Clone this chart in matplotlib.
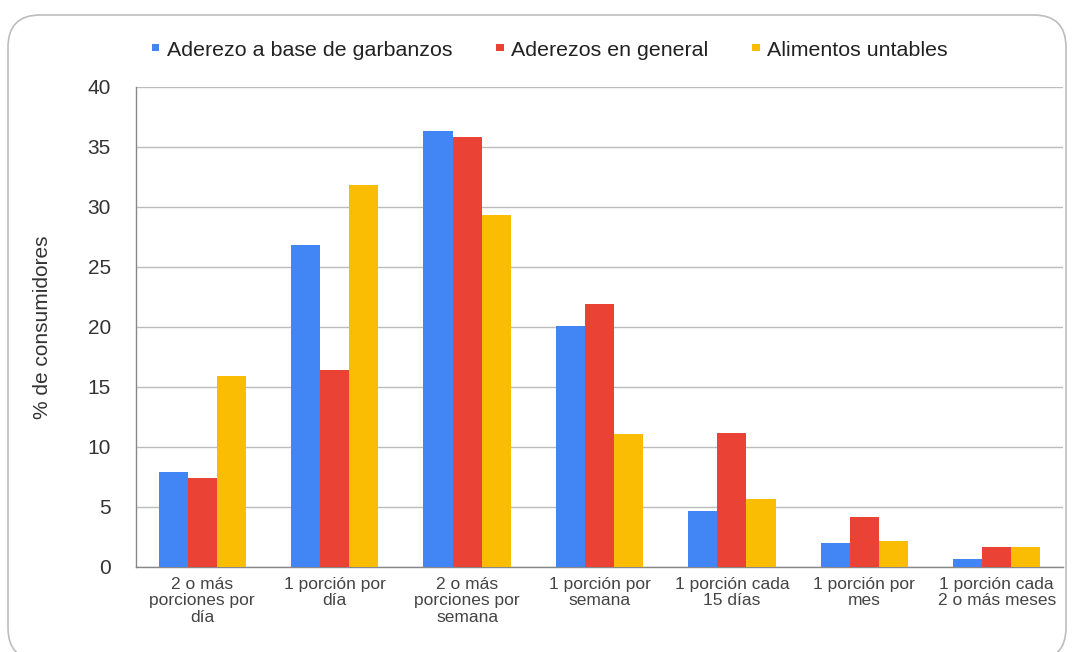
import matplotlib
matplotlib.use("Agg")
import matplotlib.pyplot as plt
import numpy as np
from matplotlib.patches import FancyBboxPatch, Patch

categories = ["2 o más\nporciones por\ndía", "1 porción por\ndía", "2 o más\nporciones por\nsemana",
              "1 porción por\nsemana", "1 porción cada\n15 días", "1 porción por\nmes",
              "1 porción cada\n2 o más meses"]
series_names = ["Aderezo a base de garbanzos", "Aderezos en general", "Alimentos untables"]
garbanzos = [7.9, 26.8, 36.3, 20.1, 4.7, 2.0, 0.7]
general = [7.4, 16.4, 35.8, 21.9, 11.2, 4.2, 1.7]
untables = [15.9, 31.8, 29.3, 11.1, 5.7, 2.2, 1.7]
colors = ["#4285F4", "#EA4335", "#FBBC04"]
yticks = [0, 5, 10, 15, 20, 25, 30, 35, 40]

plt.rcParams['font.family'] = ['Liberation Sans', 'DejaVu Sans']

W, H = 1072, 652
fig = plt.figure(figsize=(W / 100, H / 100), dpi=100)

# rounded frame
frame = FancyBboxPatch((8 / W, 1 - 660 / H), (1066 - 8) / W, (660 - 15) / H,
                       boxstyle="round,pad=0,rounding_size=0.03", transform=fig.transFigure,
                       facecolor="none", edgecolor="#bdbdbd", linewidth=1.2, zorder=0,
                       mutation_aspect=W / H)
fig.patches.append(frame)

left, right, bottom, top = 136 / W, 1063 / W, 1 - 567 / H, 1 - 87 / H
ax = fig.add_axes([left, bottom, right - left, top - bottom])
ax.set_facecolor("none")

x = np.arange(len(categories))
w = 0.22
for i, (vals, c) in enumerate(zip([garbanzos, general, untables], colors)):
    ax.bar(x + (i - 1) * w, vals, width=w, color=c, zorder=3, label=series_names[i])

ax.set_xlim(-0.5, len(categories) - 0.5)
ax.set_ylim(0, 40)
ax.set_yticks(yticks)
ax.set_yticklabels([str(v) for v in yticks], fontsize=15, color="#333333")
ax.set_xticks(x)
ax.set_xticklabels(categories, fontsize=12.5, color="#444444", linespacing=1.12)
ax.tick_params(length=0, pad=7)
ax.tick_params(axis='y', pad=18)
ax.yaxis.grid(True, color="#bcbcbc", linewidth=1.0, zorder=0)
for s in ["top", "right"]:
    ax.spines[s].set_visible(False)
for s in ["left", "bottom"]:
    ax.spines[s].set_color("#888888")
    ax.spines[s].set_linewidth(1.0)
ax.set_ylabel("% de consumidores", fontsize=15, color="#333333", labelpad=26)

handles = [Patch(facecolor=c, edgecolor="none") for c in colors]
leg = fig.legend(handles, series_names, loc="center left", bbox_to_anchor=(152 / W, 1 - 50 / H),
                 ncol=3, frameon=False, fontsize=15.4, handlelength=0.35, handleheight=0.16,
                 handletextpad=0.35, columnspacing=2.05, borderaxespad=0, borderpad=0)
for t in leg.get_texts():
    t.set_color("#222222")

fig.savefig("out.png", dpi=100)
